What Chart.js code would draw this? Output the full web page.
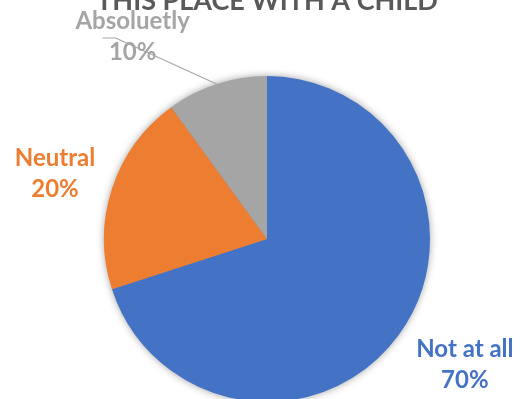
<!DOCTYPE html>
<html>
<head>
<meta charset="utf-8">
<script src="https://cdn.jsdelivr.net/npm/chart.js@4"></script>
<style>
  html, body { margin: 0; padding: 0; background: #fff; overflow: hidden; }
  #wrap { position: relative; width: 526px; height: 420px; }
</style>
</head>
<body>
<div id="wrap"><canvas id="pie"></canvas></div>
<script>
// データ
const titleText = 'THIS PLACE WITH A CHILD';
const categories = ['Not at all', 'Neutral', 'Absoluetly'];
const shares = [70, 20, 10];
const colors = ['#4472C4', '#ED7D31', '#A5A5A5'];

// ラベル位置 (扇の外周中点からのずれ)
const labelPos = [
    { dx: 66, dy: 30, leader: false },
    { dx: -57, dy: -15, leader: false },
    { dx: -84, dy: -47, leader: true }
];

// 円の影
const shadowPlugin = {
    id: 'pieShadow',
    beforeDatasetsDraw(chart) {
        const arc = chart.getDatasetMeta(0).data[0];
        if (!arc) return;
        const ctx = chart.ctx;
        ctx.save();
        ctx.shadowColor = 'rgba(0,0,0,0.45)';
        ctx.shadowBlur = 9;
        ctx.beginPath();
        ctx.arc(arc.x, arc.y, arc.outerRadius - 1, 0, Math.PI * 2);
        ctx.fillStyle = '#888';
        ctx.fill();
        ctx.restore();
    }
};

// タイトルとラベル
const labelPlugin = {
    id: 'pieLabels',
    afterDatasetsDraw(chart) {
        const ctx = chart.ctx;
        const meta = chart.getDatasetMeta(0);
        ctx.save();
        ctx.textAlign = 'center';
        ctx.textBaseline = 'alphabetic';
        ctx.fillStyle = '#595959';
        ctx.font = 'bold 27px Lato, "Open Sans", sans-serif';
        ctx.fillText(titleText, meta.data[0].x, 10);

        const total = shares.reduce((a, b) => a + b, 0);
        meta.data.forEach((arc, i) => {
            const mid = (arc.startAngle + arc.endAngle) / 2;
            const p = labelPos[i];
            const r = arc.outerRadius;
            const ex = arc.x + Math.cos(mid) * r;
            const ey = arc.y + Math.sin(mid) * r;
            const cx = ex + p.dx;
            const cy = ey + p.dy;
            const pct = Math.round(shares[i] / total * 100) + '%';

            if (p.leader) {
                ctx.strokeStyle = '#A5A5A5';
                ctx.lineWidth = 1.2;
                ctx.beginPath();
                ctx.moveTo(cx - 30, cy + 1);
                ctx.lineTo(cx - 17, cy + 1);
                ctx.lineTo(ex, ey);
                ctx.stroke();
            }

            ctx.fillStyle = colors[i];
            ctx.font = 'bold 24px Lato, "Open Sans", sans-serif';
            ctx.fillText(categories[i], cx, cy - 8);
            ctx.fillText(pct, cx, cy + 23);
        });
        ctx.restore();
    }
};

new Chart(document.getElementById('pie'), {
    type: 'pie',
    data: {
        labels: categories,
        datasets: [{
            data: shares,
            backgroundColor: colors,
            borderWidth: 0
        }]
    },
    options: {
        responsive: true,
        maintainAspectRatio: false,
        animation: false,
        layout: { padding: { top: 76, left: 104, right: 96, bottom: 18 } },
        plugins: {
            legend: { display: false },
            tooltip: { enabled: false }
        }
    },
    plugins: [shadowPlugin, labelPlugin]
});
</script>
</body>
</html>
